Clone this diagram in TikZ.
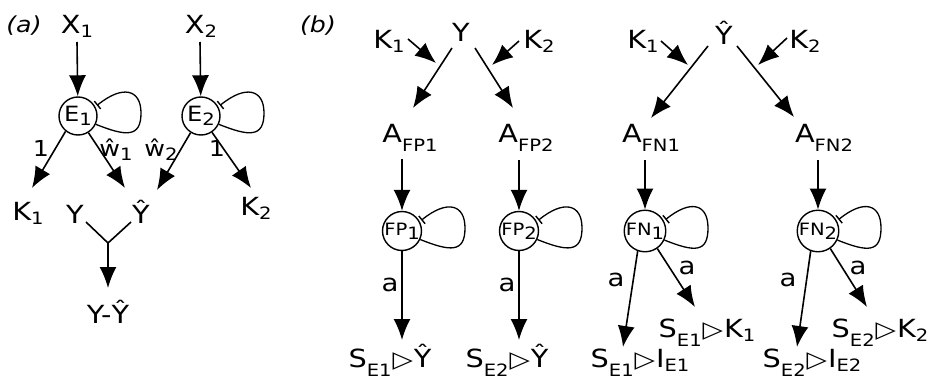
\documentclass[tikz,border=0pt]{standalone}
\usepackage{fontspec}
\setmainfont{DejaVu Sans}[FakeStretch=1.15]
\usetikzlibrary{arrows.meta}

% font size helper and subscript helpers
\newcommand\fsz[1]{\fontsize{#1}{#1}\selectfont}
\newcommand\dsb[1]{\raisebox{-4pt}{\fsz{17}#1}}
\newcommand\lsb[1]{\raisebox{-9pt}{\fsz{17}#1}}
\newcommand\isb[1]{\raisebox{-4pt}{\fsz{17}#1}}
\newcommand\rtri{\hspace{1pt}\raisebox{0pt}{\fsz{23}▷}\hspace{1pt}}

% inhibitory self loop on a unit
\newcommand\selfloop[1]{%
  \draw[inh] (#1.28) .. controls +(27,-22) and +(0,-24) ..
    ([shift={(63,-3)}]#1.center) .. controls +(0,25) and +(30,12) .. (#1.-25);}

\begin{document}
\begin{tikzpicture}[x=1pt,y=-1pt,
  every node/.style={inner sep=0pt, font=\fsz{25}},
  txt/.style={anchor=base},
  unit/.style={circle, draw, line width=1.4pt, minimum size=38pt, inner sep=0pt},
  unitE/.style={unit, font=\fsz{21}},
  unitF/.style={unit, font=\fsz{17}},
  arr/.style={line width=1.6pt, -{Latex[length=21pt,width=17pt]}},
  ln/.style={line width=1.6pt},
  inh/.style={line width=1.3pt, shorten <=2pt, {Bar[width=10pt,line width=1.4pt]}-},
  wlab/.style={font=\fsz{22}},
  alab/.style={font=\fsz{24}},
  panel/.style={anchor=base, font=\fsz{22}\itshape}]
\useasboundingbox (0,0) rectangle (931,380);

% ---------------- panel (a) ----------------
\node[panel] (pa) at (24,32) {(a)};
\node[txt] (X1) at (77,33) {X\dsb{1}};
\node[txt] (X2) at (201,33) {X\dsb{2}};
\node[unitE] (E1) at (78,116) {E\dsb{1}};
\node[unitE] (E2) at (201,116) {E\dsb{2}};
\node[txt] (K1) at (28,220) {K\dsb{1}};
\node[txt] (K2) at (256,215) {K\dsb{2}};
\node[txt] (Ya) at (75,223) {Y};
\node[txt] (Yha) at (141,223) {Ŷ};
\node[txt] (YmY) at (108,323) {Y-Ŷ};
\coordinate (J) at (108,243);

\draw[arr] ([shift={(0,9)}]X1.base) -- (E1);
\draw[arr] ([shift={(-1,9)}]X2.base) -- (E2);
\selfloop{E1}
\selfloop{E2}
\draw[arr] (E1.231) -- ([shift={(4,-32)}]K1.base);
\draw[arr] (E1.302) -- ([shift={(-16,-35)}]Yha.base);
\draw[arr] (E2.238) -- ([shift={(16,-33)}]Yha.base);
\draw[arr] (E2.304) -- ([shift={(-5,-27)}]K2.base);
\node[wlab] (l1a) at (41,148) {1};
\node[wlab] (w1) at (116,150) {ŵ\dsb{1}};
\node[wlab] (w2) at (161,150) {ŵ\dsb{2}};
\node[wlab] (l1b) at (217,148) {1};
\draw[ln] ([shift={(11,-1)}]Ya.base) -- (J) -- ([shift={(-10,-1)}]Yha.base);
\draw[arr] (J) -- ([shift={(0,-35)}]YmY.base);

% ---------------- panel (b), false positives ----------------
\node[panel] (pb) at (318,32) {(b)};
\node[txt] (Yb) at (461,41) {Y};
\node[txt] (K1b) at (389,48) {K\dsb{1}};
\node[txt] (K2b) at (539,48) {K\dsb{2}};
\node[txt] (AFP1) at (410,142) {A\lsb{FP1}};
\node[txt] (AFP2) at (526,142) {A\lsb{FP2}};
\node[unitF] (FP1) at (402,231) {FP\dsb{1}};
\node[unitF] (FP2) at (519,231) {FP\dsb{2}};
\node[txt] (SY1) at (390,367) {S\lsb{E1}\rtri Ŷ};
\node[txt] (SY2) at (507,367) {S\lsb{E2}\rtri Ŷ};

\draw[arr] ([shift={(19,-9)}]K1b.base) -- ([shift={(-25,22)}]Yb.base);
\draw[arr] ([shift={(-20,-7)}]K2b.base) -- ([shift={(31,24)}]Yb.base);
\draw[arr] ([shift={(-9,7)}]Yb.base) -- ([shift={(3,-34)}]AFP1.base);
\draw[arr] ([shift={(14,7)}]Yb.base) -- ([shift={(-13,-34)}]AFP2.base);
\draw[arr] ([shift={(-8,17)}]AFP1.base) -- (FP1);
\draw[arr] ([shift={(-7,18)}]AFP2.base) -- (FP2);
\selfloop{FP1}
\selfloop{FP2}
\draw[arr] (FP1) -- ([shift={(12,-27)}]SY1.base);
\draw[arr] (FP2) -- ([shift={(12,-27)}]SY2.base);
\node[alab] (a1) at (390,285) {a};
\node[alab] (a2) at (507,285) {a};

% ---------------- panel (b), false negatives ----------------
\node[txt] (Yhb) at (724,44) {Ŷ};
\node[txt] (K1c) at (643,48) {K\dsb{1}};
\node[txt] (K2c) at (805,48) {K\dsb{2}};
\node[txt] (AFN1) at (651,142) {A\lsb{FN1}};
\node[txt] (AFN2) at (824,142) {A\lsb{FN2}};
\node[unitF] (FN1) at (645,231) {FN\dsb{1}};
\node[unitF] (FN2) at (818,231) {FN\dsb{2}};
\node[txt] (SI1) at (640,367) {S\lsb{E1}\rtri I\isb{E1}};
\node[txt] (SK1) at (707,337) {S\lsb{E1}\rtri K\dsb{1}};
\node[txt] (SI2) at (812,367) {S\lsb{E2}\rtri I\isb{E2}};
\node[txt] (SK2) at (880,337) {S\lsb{E2}\rtri K\dsb{2}};

\draw[arr] ([shift={(18,-7)}]K1c.base) -- ([shift={(-36,21)}]Yhb.base);
\draw[arr] ([shift={(-18,-10)}]K2c.base) -- ([shift={(34,21)}]Yhb.base);
\draw[arr] ([shift={(-16,2)}]Yhb.base) -- ([shift={(0,-24)}]AFN1.base);
\draw[arr] ([shift={(13,2)}]Yhb.base) -- ([shift={(-30,-25)}]AFN2.base);
\draw[arr] ([shift={(-6,18)}]AFN1.base) -- (FN1);
\draw[arr] ([shift={(-6,18)}]AFN2.base) -- (FN2);
\selfloop{FN1}
\selfloop{FN2}
\draw[arr] (FN1.250) -- ([shift={(-17,-20)}]SI1.base);
\draw[arr] (FN1.305) -- ([shift={(-12,-30)}]SK1.base);
\draw[arr] (FN2.250) -- ([shift={(-15,-20)}]SI2.base);
\draw[arr] (FN2.305) -- ([shift={(-13,-30)}]SK2.base);
\node[alab] (a3) at (616,280) {a};
\node[alab] (a4) at (687,268) {a};
\node[alab] (a5) at (788,280) {a};
\node[alab] (a6) at (858,268) {a};
\end{tikzpicture}
\end{document}
